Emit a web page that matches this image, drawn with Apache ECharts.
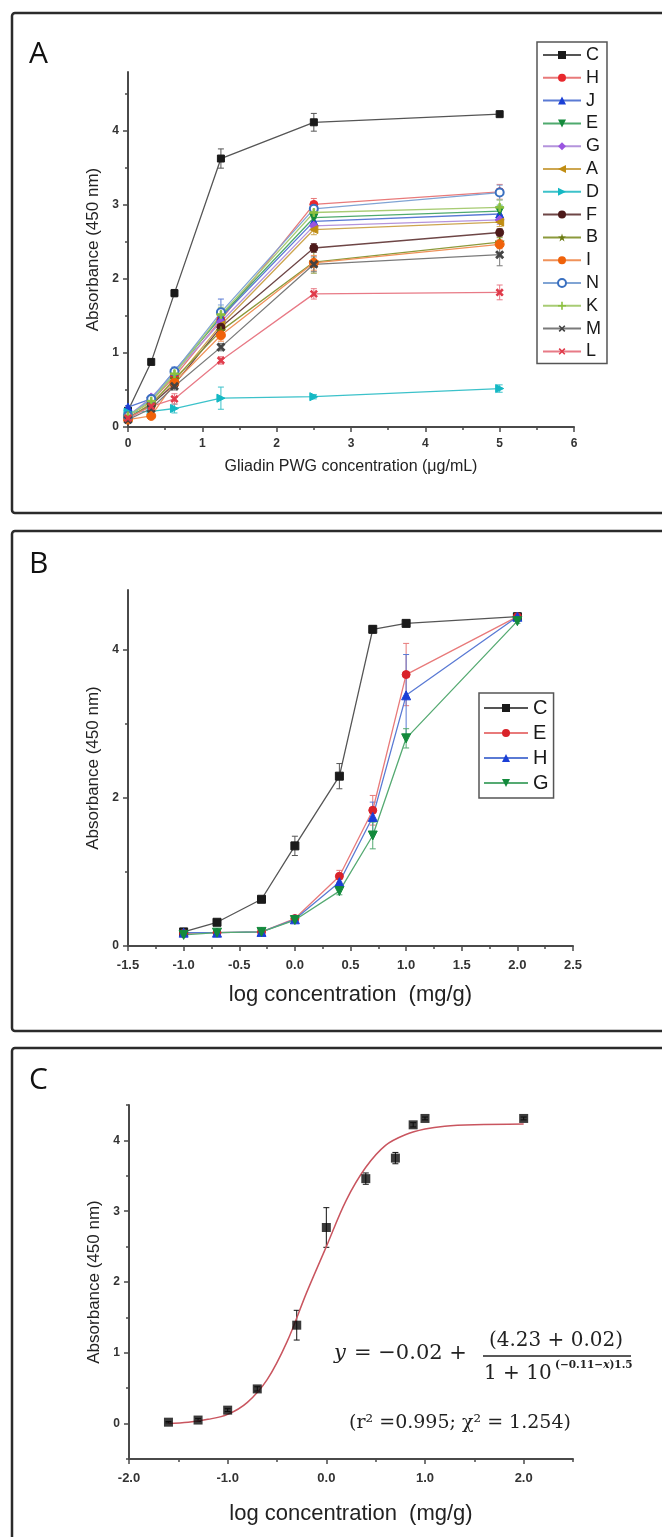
<!DOCTYPE html>
<html>
<head>
<meta charset="utf-8">
<script src="https://cdn.jsdelivr.net/npm/echarts@6/dist/echarts.min.js"></script>
<style>
  html, body { margin: 0; padding: 0; background: #fff; }
  #chart { width: 662px; height: 1537px; }
</style>
</head>
<body>
<div id="chart"></div>
<script>
// ---- panel A: gliadin PWG standard, 14 antibodies ----
const concA = [0, 0.3125, 0.625, 1.25, 2.5, 5]
const absA_C = [0.22, 0.88, 1.81, 3.63, 4.12, 4.23]
const absA_H = [0.15, 0.35, 0.68, 1.45, 3.01, 3.18]
const absA_J = [0.27, 0.38, 0.76, 1.48, 2.78, 2.88]
const absA_E = [0.15, 0.35, 0.72, 1.5, 2.83, 2.92]
const absA_G = [0.15, 0.4, 0.73, 1.42, 2.72, 2.8]
const absA_A = [0.12, 0.32, 0.62, 1.38, 2.67, 2.77]
const absA_D = [0.2, 0.21, 0.25, 0.39, 0.41, 0.52]
const absA_F = [0.12, 0.3, 0.58, 1.35, 2.42, 2.63]
const absA_B = [0.12, 0.3, 0.65, 1.3, 2.23, 2.5]
const absA_I = [0.1, 0.15, 0.6, 1.24, 2.22, 2.47]
const absA_N = [0.15, 0.38, 0.75, 1.55, 2.95, 3.17]
const absA_K = [0.15, 0.35, 0.72, 1.52, 2.9, 2.97]
const absA_M = [0.1, 0.25, 0.55, 1.08, 2.2, 2.33]
const absA_L = [0.12, 0.28, 0.38, 0.9, 1.8, 1.82]
const errA_C = [0.02, 0.03, 0.05, 0.13, 0.12, 0.03]
const errA_H = [0.02, 0.03, 0.04, 0.08, 0.08, 0.1]
const errA_J = [0.02, 0.03, 0.05, 0.25, 0.06, 0.08]
const errA_E = [0.02, 0.03, 0.05, 0.1, 0.06, 0.08]
const errA_G = [0.02, 0.03, 0.05, 0.1, 0.06, 0.06]
const errA_A = [0.02, 0.03, 0.05, 0.1, 0.07, 0.06]
const errA_D = [0.02, 0.03, 0.06, 0.15, 0.03, 0.05]
const errA_F = [0.02, 0.03, 0.05, 0.08, 0.06, 0.05]
const errA_B = [0.02, 0.03, 0.05, 0.08, 0.15, 0.06]
const errA_I = [0.02, 0.03, 0.05, 0.08, 0.1, 0.06]
const errA_N = [0.02, 0.03, 0.05, 0.1, 0.08, 0.1]
const errA_K = [0.02, 0.03, 0.05, 0.1, 0.08, 0.1]
const errA_M = [0.02, 0.03, 0.05, 0.05, 0.1, 0.15]
const errA_L = [0.02, 0.03, 0.07, 0.05, 0.07, 0.1]

// ---- panel B: log concentration, 4 antibodies ----
const logConcB = [-1, -0.7, -0.3, 0, 0.4, 0.7, 1, 2]
const absB_C = [0.19, 0.32, 0.63, 1.35, 2.29, 4.27, 4.35, 4.44]
const absB_E = [0.17, 0.18, 0.19, 0.37, 0.94, 1.83, 3.66, 4.44]
const absB_H = [0.18, 0.18, 0.19, 0.36, 0.86, 1.74, 3.38, 4.44]
const absB_G = [0.15, 0.18, 0.19, 0.35, 0.74, 1.49, 2.8, 4.38]
const errB_C = [0.02, 0.02, 0.03, 0.13, 0.17, 0.05, 0.03, 0.03]
const errB_E = [0.02, 0.02, 0.02, 0.03, 0.08, 0.2, 0.42, 0.03]
const errB_H = [0.02, 0.02, 0.02, 0.03, 0.06, 0.2, 0.55, 0.03]
const errB_G = [0.02, 0.02, 0.02, 0.03, 0.05, 0.18, 0.13, 0.03]

// ---- panel C: fitted curve ----
const logConcC = [-1.6, -1.3, -1, -0.7, -0.3, 0, 0.4, 0.7, 0.88, 1, 2]
const absC = [0.02, 0.05, 0.19, 0.49, 1.39, 2.77, 3.46, 3.75, 4.22, 4.31, 4.31]
const errC = [0.01, 0.02, 0.02, 0.03, 0.21, 0.28, 0.08, 0.08, 0.03, 0.02, 0.02]
const fitX = [-1.6, -1.4, -1.2, -1.0, -0.8, -0.6, -0.4, -0.2, 0, 0.2, 0.4, 0.6, 0.8, 1.0, 1.2, 1.5, 2.0]
const fitY = [0.0, 0.02, 0.06, 0.13, 0.3, 0.62, 1.15, 1.85, 2.5, 3.15, 3.62, 3.93, 4.08, 4.16, 4.2, 4.22, 4.23]

const ticksA_x = [0, 1, 2, 3, 4, 5, 6]
const minorA_x = [0.5, 1.5, 2.5, 3.5, 4.5, 5.5]
const ticksA_y = [0, 1, 2, 3, 4]
const minorA_y = [0.5, 1.5, 2.5, 3.5, 4.5]
const ticksB_x = [-1.5, -1, -0.5, 0, 0.5, 1, 1.5, 2, 2.5]
const minorB_x = [-1.25, -0.75, -0.25, 0.25, 0.75, 1.25, 1.75, 2.25]
const ticksB_y = [0, 2, 4]
const minorB_y = [1, 3]
const ticksC_x = [-2, -1, 0, 1, 2]
const minorC_x = [-1.5, -0.5, 0.5, 1.5, 2.5]
const ticksC_y = [0, 1, 2, 3, 4]
const minorC_y = [-0.5, 0.5, 1.5, 2.5, 3.5, 4.5]

const star = 'path://M5,0L6.2,3.6L10,3.6L6.9,5.8L8.1,9.5L5,7.2L1.9,9.5L3.1,5.8L0,3.6L3.8,3.6Z'
const plus = 'path://M4,0H6V4H10V6H6V10H4V6H0V4H4Z'

const AXIS = '#4a4a4a'
const FONT = 'Liberation Sans, Arial, sans-serif'

const chart = echarts.init(document.getElementById('chart'))

// major axis (line, ticks, labels, name) + a bare axis for the short minor ticks
function axes(dim, grid, min, max, majors, minors, fmt, o) {
  const pos = dim === 'x' ? 'bottom' : 'left'
  const major = {
    type: 'value', gridIndex: grid, min: min, max: max, position: pos,
    axisLine: { show: true, onZero: false, lineStyle: { color: AXIS, width: 2 } },
    axisTick: { show: true, length: 5, customValues: majors, lineStyle: { color: AXIS, width: 1.5 } },
    axisLabel: {
      customValues: majors, formatter: fmt, color: '#333', fontFamily: FONT,
      fontWeight: 'bold', fontSize: o.labelSize, margin: o.margin
    },
    splitLine: { show: false },
    name: o.name, nameLocation: 'middle', nameGap: o.nameGap,
    nameTextStyle: { fontFamily: FONT, fontSize: o.nameSize, color: '#222' }
  }
  const minor = {
    type: 'value', gridIndex: grid, min: min, max: max, position: pos,
    axisLine: { show: false, onZero: false },
    axisTick: { show: true, length: 3, customValues: minors, lineStyle: { color: AXIS, width: 1.5 } },
    axisLabel: { show: false },
    splitLine: { show: false }
  }
  return [major, minor]
}

function errorBars(xs, ys, es, color, xi, yi, cap) {
  return {
    type: 'custom', xAxisIndex: xi, yAxisIndex: yi, silent: true, z: 1,
    data: xs.map((x, i) => [x, ys[i], es[i]]),
    renderItem: (params, api) => {
      const x = api.value(0), y = api.value(1), e = api.value(2)
      const t = api.coord([x, y + e]), b = api.coord([x, y - e])
      const st = { stroke: color, lineWidth: 1 }
      return {
        type: 'group', children: [
          { type: 'line', shape: { x1: t[0], y1: t[1], x2: b[0], y2: b[1] }, style: st },
          { type: 'line', shape: { x1: t[0] - cap, y1: t[1], x2: t[0] + cap, y2: t[1] }, style: st },
          { type: 'line', shape: { x1: b[0] - cap, y1: b[1], x2: b[0] + cap, y2: b[1] }, style: st }
        ]
      }
    }
  }
}

const seriesA = [
  { name: 'C', y: absA_C, err: errA_C, color: '#1a1a1a', line: '#555555', symbol: 'rect', size: 7 },
  { name: 'H', y: absA_H, err: errA_H, color: '#e8282d', line: '#e87a7a', symbol: 'circle', size: 8 },
  { name: 'J', y: absA_J, err: errA_J, color: '#1b3fd6', line: '#5a7ad4', symbol: 'triangle', size: 8 },
  { name: 'E', y: absA_E, err: errA_E, color: '#148a3c', line: '#4faa6e', symbol: 'triangle', rotate: 180, size: 8 },
  { name: 'G', y: absA_G, err: errA_G, color: '#9a55e0', line: '#b494dc', symbol: 'diamond', size: 9 },
  { name: 'A', y: absA_A, err: errA_A, color: '#c08d12', line: '#cda650', symbol: 'triangle', rotate: 90, size: 8 },
  { name: 'D', y: absA_D, err: errA_D, color: '#14b8c4', line: '#3cc2ca', symbol: 'triangle', rotate: -90, size: 8 },
  { name: 'F', y: absA_F, err: errA_F, color: '#4d1a1a', line: '#6e4646', symbol: 'circle', size: 8 },
  { name: 'B', y: absA_B, err: errA_B, color: '#6b7a12', line: '#8c9a3c', symbol: star, size: 9 },
  { name: 'I', y: absA_I, err: errA_I, color: '#f0620a', line: '#f0925a', symbol: 'circle', size: 9 },
  { name: 'N', y: absA_N, err: errA_N, color: '#3a70c0', line: '#80a4d4', symbol: 'emptyCircle', size: 8 },
  { name: 'K', y: absA_K, err: errA_K, color: '#8cc040', line: '#a8cc74', symbol: plus, size: 8 },
  { name: 'M', y: absA_M, err: errA_M, color: '#444444', line: '#7a7a7a', symbol: plus, rotate: 45, size: 9 },
  { name: 'L', y: absA_L, err: errA_L, color: '#e03a4a', line: '#e87a86', symbol: plus, rotate: 45, size: 8 }
]

const seriesB = [
  { name: 'B:C', y: absB_C, err: errB_C, color: '#1a1a1a', line: '#555555', symbol: 'rect', size: 8 },
  { name: 'B:E', y: absB_E, err: errB_E, color: '#d9232a', line: '#e87a7a', symbol: 'circle', size: 8 },
  { name: 'B:H', y: absB_H, err: errB_H, color: '#1b3fd6', line: '#5a7ad4', symbol: 'triangle', size: 9 },
  { name: 'B:G', y: absB_G, err: errB_G, color: '#138a3c', line: '#55aa72', symbol: 'triangle', rotate: 180, size: 9 }
]

function lineSeries(s, xs, xi, yi) {
  return {
    name: s.name, type: 'line', xAxisIndex: xi, yAxisIndex: yi, z: 3,
    data: xs.map((x, i) => [x, s.y[i]]),
    symbol: s.symbol, symbolSize: s.size, symbolRotate: s.rotate || 0,
    itemStyle: { color: s.color, borderColor: s.color },
    lineStyle: { color: s.line, width: 1.3 }
  }
}

const series = []
seriesA.forEach(s => {
  series.push(errorBars(concA, s.y, s.err, s.line, 0, 0, 3))
  series.push(lineSeries(s, concA, 0, 0))
})
seriesB.forEach(s => {
  series.push(errorBars(logConcB, s.y, s.err, s.line, 2, 2, 3))
  series.push(lineSeries(s, logConcB, 2, 2))
})
series.push({
  type: 'line', xAxisIndex: 4, yAxisIndex: 4, smooth: 0.35, showSymbol: false, z: 2,
  data: fitX.map((x, i) => [x, fitY[i]]),
  lineStyle: { color: '#c9555f', width: 1.5 }
})
series.push(errorBars(logConcC, absC, errC, '#111', 4, 4, 3))
series.push({
  type: 'scatter', xAxisIndex: 4, yAxisIndex: 4, z: 3,
  data: logConcC.map((x, i) => [x, absC[i]]),
  symbol: 'rect', symbolSize: 9, itemStyle: { color: '#0a0a0a' }
})

const fmtInt = v => String(v)
const fmt1 = v => v.toFixed(1)

const xAxis = [].concat(
  axes('x', 0, 0, 6, ticksA_x, minorA_x, fmtInt, { labelSize: 12, margin: 11, name: 'Gliadin PWG concentration (\u03bcg/mL)', nameGap: 32, nameSize: 16 }),
  axes('x', 1, -1.5, 2.5, ticksB_x, minorB_x, fmt1, { labelSize: 13, margin: 13, name: 'log concentration  (mg/g)', nameGap: 38, nameSize: 22 }),
  axes('x', 2, -2, 2.5, ticksC_x, minorC_x, fmt1, { labelSize: 13, margin: 13, name: 'log concentration  (mg/g)', nameGap: 44, nameSize: 22 })
)
const yAxis = [].concat(
  axes('y', 0, 0, 4.8, ticksA_y, minorA_y, fmtInt, { labelSize: 12, margin: 9, name: 'Absorbance (450 nm)', nameGap: 22, nameSize: 17 }),
  axes('y', 1, 0, 4.8, ticksB_y, minorB_y, fmtInt, { labelSize: 12, margin: 9, name: 'Absorbance (450 nm)', nameGap: 22, nameSize: 17 }),
  axes('y', 2, -0.5, 4.5, ticksC_y, minorC_y, fmtInt, { labelSize: 12, margin: 9, name: 'Absorbance (450 nm)', nameGap: 22, nameSize: 17 })
)

const serif = 'DejaVu Serif, serif'

chart.setOption({
  animation: false,
  backgroundColor: '#fff',
  grid: [
    { left: 128, top: 72, width: 446, height: 355 },
    { left: 128, top: 590, width: 445, height: 356 },
    { left: 129, top: 1105, width: 444, height: 354 }
  ],
  xAxis: xAxis,
  yAxis: yAxis,
  legend: [
    {
      data: seriesA.map(s => s.name), orient: 'vertical', left: 537, top: 42,
      itemWidth: 38, itemHeight: 10, itemGap: 4.8, padding: [4, 6, 3, 5],
      borderColor: '#555', borderWidth: 1.5, selectedMode: false,
      textStyle: { fontFamily: FONT, fontSize: 18, lineHeight: 18, color: '#1a1a1a' }
    },
    {
      data: seriesB.map(s => s.name), orient: 'vertical', left: 479, top: 693,
      itemWidth: 44, itemHeight: 10, itemGap: 5, padding: [5, 5, 5, 4],
      borderColor: '#555', borderWidth: 1.5, selectedMode: false,
      formatter: n => n.split(':')[1],
      textStyle: { fontFamily: FONT, fontSize: 20, lineHeight: 20, color: '#1a1a1a' }
    }
  ],
  graphic: [
    { type: 'rect', z: -1, shape: { x: 12, y: 13, width: 700, height: 500, r: 3 }, style: { fill: 'none', stroke: '#2b2b2b', lineWidth: 2.5 } },
    { type: 'rect', z: -1, shape: { x: 12, y: 531, width: 700, height: 500, r: 3 }, style: { fill: 'none', stroke: '#2b2b2b', lineWidth: 2.5 } },
    { type: 'rect', z: -1, shape: { x: 12, y: 1048, width: 700, height: 520, r: 3 }, style: { fill: 'none', stroke: '#2b2b2b', lineWidth: 2.5 } },
    { type: 'text', left: 29, top: 39, style: { text: 'A', font: '30px "Open Sans", sans-serif', fill: '#111' } },
    { type: 'text', left: 29, top: 549, style: { text: 'B', font: '30px "Open Sans", sans-serif', fill: '#111' } },
    { type: 'text', left: 29, top: 1065, style: { text: 'C', font: '30px "Open Sans", sans-serif', fill: '#111' } },
    // fitted equation
    { type: 'text', x: 334, y: 1354, style: { text: 'y', font: 'italic 21px ' + serif, fill: '#222', verticalAlign: 'middle' } },
    { type: 'text', x: 354, y: 1354, style: { text: '= \u22120.02 +', font: '21px ' + serif, fill: '#222', verticalAlign: 'middle' } },
    { type: 'text', x: 556, y: 1341, style: { text: '(4.23 + 0.02)', font: '20px ' + serif, fill: '#222', align: 'center', verticalAlign: 'middle' } },
    { type: 'line', shape: { x1: 483, y1: 1356, x2: 631, y2: 1356 }, style: { stroke: '#222', lineWidth: 1.5 } },
    { type: 'text', x: 484, y: 1374, style: { text: '1 + 10', font: '20px ' + serif, fill: '#222', verticalAlign: 'middle' } },
    {
      type: 'text', x: 555, y: 1365,
      style: {
        text: '{n|(\u22120.11\u2212}{i|x}{n|)1.5}', verticalAlign: 'middle', fill: '#222',
        rich: {
          n: { fontFamily: serif, fontSize: 10.5, fontWeight: 'bold', fill: '#222' },
          i: { fontFamily: serif, fontSize: 10.5, fontWeight: 'bold', fontStyle: 'italic', fill: '#222' }
        }
      }
    },
    { type: 'text', x: 460, y: 1423, style: { text: '(r\u00b2 =0.995; \u03c7\u00b2 = 1.254)', font: '19px ' + serif, fill: '#222', align: 'center', verticalAlign: 'middle' } }
  ],
  series: series
})
</script>
</body>
</html>
